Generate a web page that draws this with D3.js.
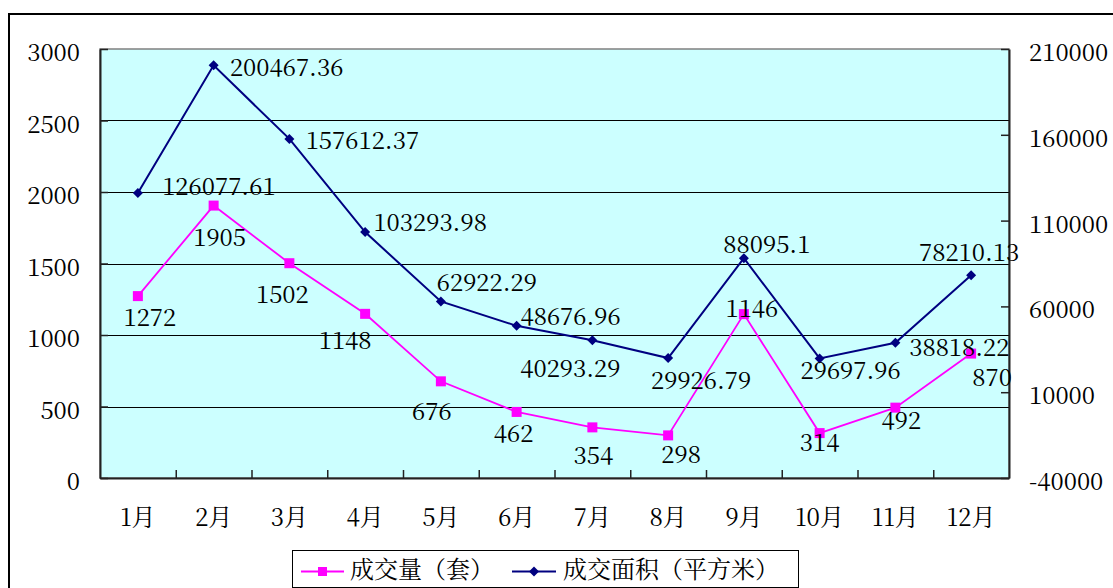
<!DOCTYPE html>
<html>
<head>
<meta charset="utf-8">
<script src="https://cdn.jsdelivr.net/npm/d3@7"></script>
<style>
  html, body { margin: 0; padding: 0; background: #fff; }
  svg { display: block; }
</style>
</head>
<body>
<svg id="chart" width="1113" height="588"></svg>
<script>
// Monthly transactions: units sold and floor area sold
const months = ["1月", "2月", "3月", "4月", "5月", "6月", "7月", "8月", "9月", "10月", "11月", "12月"];
const units = [1272, 1905, 1502, 1148, 676, 462, 354, 298, 1146, 314, 492, 870];
const area = [126077.61, 200467.36, 157612.37, 103293.98, 62922.29, 48676.96, 40293.29, 29926.79, 88095.1, 29697.96, 38818.22, 78210.13];
const areaText = ["126077.61", "200467.36", "157612.37", "103293.98", "62922.29", "48676.96", "40293.29", "29926.79", "88095.1", "29697.96", "38818.22", "78210.13"];
const leftTicks = [0, 500, 1000, 1500, 2000, 2500, 3000];
const rightTicks = [-40000, 10000, 60000, 110000, 160000, 210000];
const seriesNames = ["成交量（套）", "成交面积（平方米）"];

// Hand-placed data label offsets (label centre relative to its marker)
const unitLabelShift = [[12, 21], [6, 32], [-7, 31], [-20, 27], [-9, 30], [-3, 22], [1, 28], [13, 19], [8, -6], [0, 9], [6, 13], [21, 24]];
const areaLabelShift = [[81, -7], [73, 2], [73, 2], [65, -10], [46, -19], [54, -9], [-22, 28], [33, 22], [23, -14], [31, 12], [64, 5], [-2, -23]];

const FONT = '"Noto Serif CJK SC", "Liberation Serif", "Noto Sans CJK SC"';
const FS = 24;
const svg = d3.select("#chart");
const plot = { left: 100, top: 49, right: 1009, bottom: 478 };
const PINK = "#ff00ff", NAVY = "#000080";
const styleText = sel => sel.attr("font-family", FONT).attr("font-size", FS).attr("fill", "#000");

// Chart frame
svg.append("rect").attr("x", 9).attr("y", 14).attr("width", 1200).attr("height", 700)
  .attr("fill", "#fff").attr("stroke", "#000").attr("stroke-width", 2);

const x = d3.scaleBand().domain(months).range([plot.left, plot.right]).padding(0);
const xc = m => x(m) + x.bandwidth() / 2;
const xEdge = d3.scaleLinear().domain([0, months.length]).range([plot.left, plot.right]);
const yL = d3.scaleLinear().domain([0, 3000]).range([plot.bottom, plot.top]);
const yR = d3.scaleLinear().domain([-40000, 210000]).range([plot.bottom, plot.top]);

// Plot area
svg.append("rect").attr("x", plot.left).attr("y", plot.top)
  .attr("width", plot.right - plot.left).attr("height", plot.bottom - plot.top)
  .attr("fill", "#ccffff").attr("stroke", "#808080").attr("stroke-width", 1.5);

// Horizontal gridlines on the left scale
svg.append("g").selectAll("line").data(leftTicks.filter(v => v > 0 && v < 3000)).join("line")
  .attr("x1", plot.left).attr("x2", plot.right)
  .attr("y1", d => Math.round(yL(d)) + 0.5).attr("y2", d => Math.round(yL(d)) + 0.5)
  .attr("stroke", "#000").attr("stroke-width", 1);

// Left axis
const gL = svg.append("g").attr("transform", `translate(${plot.left},0)`)
  .call(d3.axisLeft(yL).tickValues(leftTicks).tickSizeInner(-8).tickSizeOuter(0).tickPadding(20).tickFormat(d => String(d)));
// Right axis
const gR = svg.append("g").attr("transform", `translate(${plot.right},0)`)
  .call(d3.axisRight(yR).tickValues(rightTicks).tickSizeInner(-8).tickSizeOuter(0).tickPadding(20).tickFormat(d => String(d)));
[gL, gR].forEach(g => {
  g.select(".domain").attr("stroke", "#222").attr("stroke-width", 2);
  g.selectAll(".tick line").attr("stroke", "#222").attr("stroke-width", 1.5);
  g.selectAll("text").call(styleText).attr("dy", null)
    .attr("transform", "translate(0,11.5)");
});

// Bottom axis: boundary ticks and month labels
const gTicks = svg.append("g").attr("transform", `translate(0,${plot.bottom})`)
  .call(d3.axisBottom(xEdge).tickValues(d3.range(1, months.length)).tickSizeInner(-8).tickSizeOuter(0).tickFormat(""));
gTicks.select(".domain").attr("stroke", "#222").attr("stroke-width", 2);
gTicks.selectAll(".tick line").attr("stroke", "#222").attr("stroke-width", 1.5);
const gX = svg.append("g").attr("transform", `translate(0,${plot.bottom})`)
  .call(d3.axisBottom(x).tickSize(0).tickPadding(0));
gX.select(".domain").remove();
gX.selectAll("text").call(styleText).attr("dy", null).attr("y", 48);

// Series lines
const lineUnits = d3.line().x((d, i) => xc(months[i])).y(d => yL(d));
const lineArea = d3.line().x((d, i) => xc(months[i])).y(d => yR(d));
svg.append("path").datum(units).attr("d", lineUnits).attr("fill", "none")
  .attr("stroke", PINK).attr("stroke-width", 1.8);
svg.append("path").datum(area).attr("d", lineArea).attr("fill", "none")
  .attr("stroke", NAVY).attr("stroke-width", 2);

// Markers
svg.append("g").selectAll("rect").data(units).join("rect")
  .attr("x", (d, i) => xc(months[i]) - 5).attr("y", d => yL(d) - 5)
  .attr("width", 10).attr("height", 10).attr("fill", PINK);
const diamond = d3.symbol().type(d3.symbolDiamond2).size(64);
svg.append("g").selectAll("path").data(area).join("path")
  .attr("transform", (d, i) => `translate(${xc(months[i])},${yR(d)})`)
  .attr("d", diamond).attr("fill", NAVY);

// Data labels
svg.append("g").selectAll("text").data(units).join("text").call(styleText)
  .attr("text-anchor", "middle")
  .attr("x", (d, i) => xc(months[i]) + unitLabelShift[i][0])
  .attr("y", (d, i) => yL(d) + unitLabelShift[i][1] + 8.5)
  .text(d => d);
svg.append("g").selectAll("text").data(area).join("text").call(styleText)
  .attr("text-anchor", "middle")
  .attr("x", (d, i) => xc(months[i]) + areaLabelShift[i][0])
  .attr("y", (d, i) => yR(d) + areaLabelShift[i][1] + 8.5)
  .text((d, i) => areaText[i]);

// Legend
const lg = svg.append("g");
lg.append("rect").attr("x", 292.5).attr("y", 550.5).attr("width", 506).attr("height", 37)
  .attr("fill", "#fff").attr("stroke", "#000").attr("stroke-width", 1);
lg.append("line").attr("x1", 301).attr("x2", 344).attr("y1", 571.5).attr("y2", 571.5)
  .attr("stroke", PINK).attr("stroke-width", 1.8);
lg.append("rect").attr("x", 318).attr("y", 567).attr("width", 9).attr("height", 9).attr("fill", PINK);
lg.append("text").call(styleText).attr("x", 350).attr("y", 567)
  .attr("dominant-baseline", "central").text(seriesNames[0]);
lg.append("line").attr("x1", 512).attr("x2", 556).attr("y1", 571.5).attr("y2", 571.5)
  .attr("stroke", NAVY).attr("stroke-width", 2);
lg.append("path").attr("transform", "translate(534,571.5)").attr("d", diamond).attr("fill", NAVY);
lg.append("text").call(styleText).attr("x", 563).attr("y", 567)
  .attr("dominant-baseline", "central").text(seriesNames[1]);
</script>
</body>
</html>
